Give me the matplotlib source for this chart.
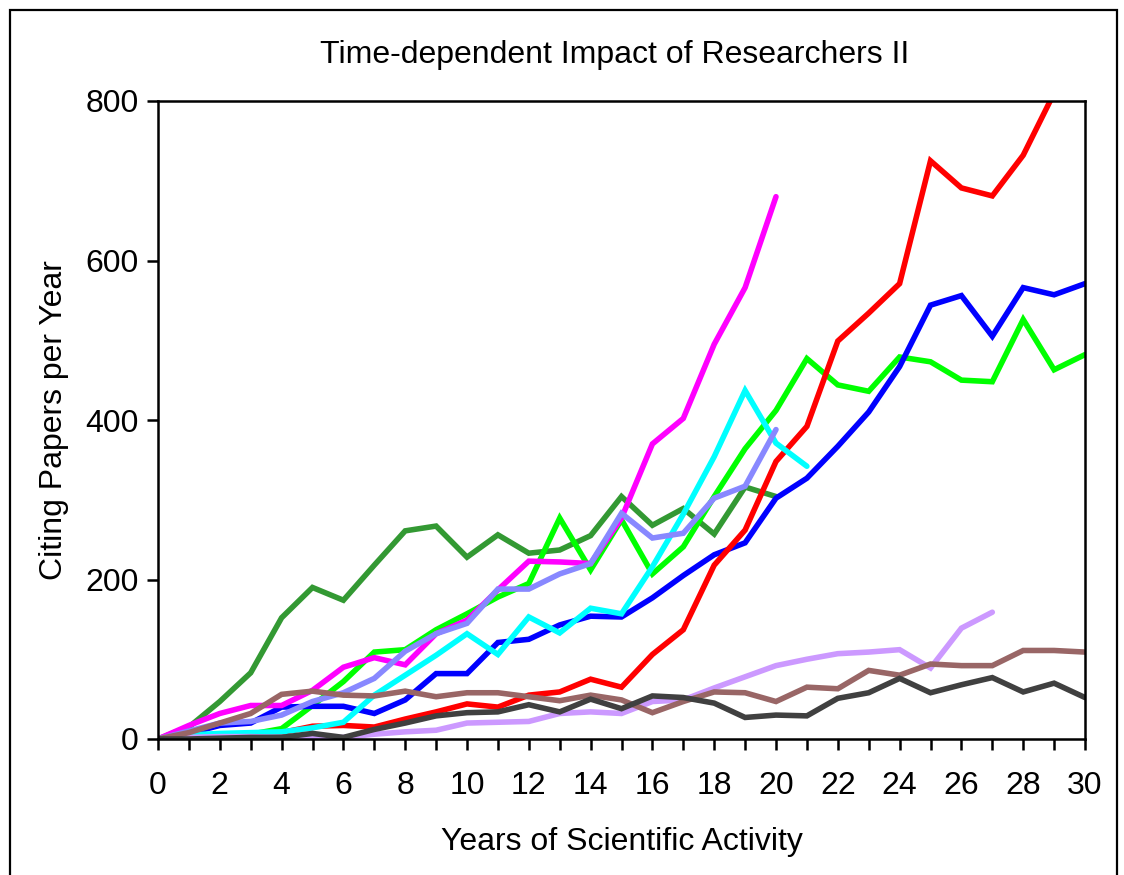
import matplotlib
matplotlib.use("Agg")
import matplotlib.pyplot as plt
from matplotlib.patches import Rectangle
from matplotlib.ticker import MultipleLocator


# -------------------------
# Data
# -------------------------
years = list(range(31))

dark_green = [0, 15, 47, 83, 152, 190, 174, 218, 261, 267, 228, 256, 233, 237, 255,
              304, 268, 289, 257, 316, 304]
green = [0, 4, 5, 6, 13, 42, 72, 109, 112, 137, 157, 178, 195, 277, 212,
         275, 207, 241, 304, 364, 412, 477, 444, 436, 479, 473, 450, 448, 526, 463, 482]
blue = [0, 7, 17, 20, 40, 41, 41, 32, 49, 82, 82, 121, 125, 143, 154,
        153, 177, 205, 231, 246, 302, 327, 367, 410, 467, 544, 556, 505, 566, 557, 571]
red = [0, 2, 3, 5, 8, 16, 17, 15, 25, 34, 44, 40, 55, 59, 75,
       65, 106, 137, 218, 262, 348, 392, 499, 534, 571, 725, 691, 681, 732, 810, 850]
magenta = [0, 17, 32, 42, 42, 61, 90, 102, 93, 132, 149, 187, 223, 222, 220,
           277, 370, 402, 495, 566, 680]
cyan = [0, 5, 7, 8, 9, 14, 21, 55, 80, 105, 132, 106, 153, 133, 164,
        157, 216, 282, 354, 437, 371, 342]
lavender = [0, 10, 20, 22, 30, 47, 58, 76, 110, 132, 145, 188, 188, 207, 220,
            283, 252, 258, 302, 317, 388]
light_purple = [0, 2, 3, 3, 2, 1, 2, 6, 9, 11, 20, 21, 22, 32, 34,
                32, 47, 49, 64, 78, 92, 100, 107, 109, 112, 89, 139, 159]
brown = [0, 8, 20, 32, 56, 60, 55, 54, 60, 53, 58, 58, 53, 48, 55,
         49, 33, 47, 59, 58, 47, 65, 63, 86, 80, 94, 92, 92, 111, 111, 109]
dark_gray = [0, 0, 1, 2, 2, 7, 2, 12, 20, 29, 33, 34, 43, 34, 50,
             38, 54, 52, 45, 27, 30, 29, 51, 58, 76, 58, 68, 77, 59, 70, 52]

series = [
    (dark_green, "#339933"),
    (green, "#00FF00"),
    (blue, "#0000FF"),
    (red, "#FF0000"),
    (magenta, "#FF00FF"),
    (cyan, "#00FFFF"),
    (lavender, "#8888FF"),
    (light_purple, "#CC99FF"),
    (brown, "#996666"),
    (dark_gray, "#404040"),
]


# -------------------------
# Plot
# -------------------------
plt.rcParams["font.family"] = ["Liberation Sans", "DejaVu Sans"]

fig = plt.figure(figsize=(11.24, 8.75), dpi=100)
ax = fig.add_axes([158 / 1124, 1 - 739 / 875, (1085 - 158) / 1124, (739 - 101) / 875])

for values, color in series:
    ax.plot(years[:len(values)], values, color=color, lw=4.0,
            solid_capstyle="round", solid_joinstyle="miter")

ax.set_xlim(0, 30)
ax.set_ylim(0, 800)
ax.xaxis.set_major_locator(MultipleLocator(2))
ax.xaxis.set_minor_locator(MultipleLocator(1))
ax.yaxis.set_major_locator(MultipleLocator(200))

ax.tick_params(axis="both", which="both", direction="out", length=8, width=1.8,
               labelsize=23, color="black")
ax.tick_params(axis="x", pad=15)
ax.tick_params(axis="y", pad=6)
for spine in ax.spines.values():
    spine.set_linewidth(1.8)

ax.set_xlabel("Years of Scientific Activity", fontsize=23, labelpad=19)
ax.set_ylabel("Citing Papers per Year", fontsize=23, labelpad=12)
fig.text(615 / 1124, 1 - 55 / 875, "Time-dependent Impact of Researchers II",
         fontsize=23, ha="center", va="center")

# outer frame of the figure (bottom edge runs off the canvas)
fig.patches.append(Rectangle((10 / 1124, -0.1), 1107 / 1124, 1 - 10 / 875 + 0.1,
                             transform=fig.transFigure, fill=False,
                             edgecolor="black", lw=1.6, clip_on=False))

fig.savefig("out.png", dpi=100)
